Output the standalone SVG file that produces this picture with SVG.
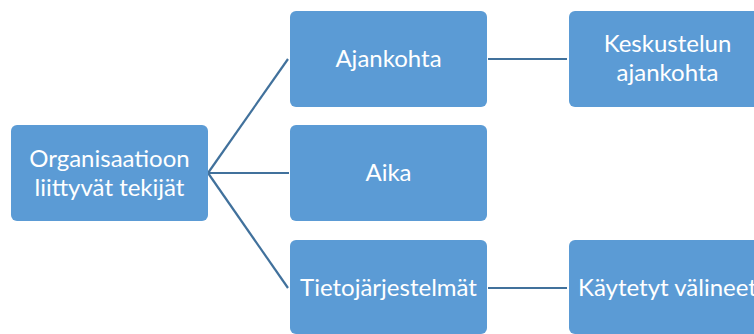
<svg xmlns="http://www.w3.org/2000/svg" width="754" height="334" viewBox="0 0 754 334">
  <style>
    .box { fill: #5B9BD5; }
    .lbl { fill: #FFFFFF; font-family: Lato, "Open Sans", "Liberation Sans", sans-serif; font-size: 24px; text-anchor: middle; }
    .link { stroke: #41719C; stroke-width: 2.2; fill: none; }
  </style>
  <rect width="754" height="334" fill="#FFFFFF"/>
  <g id="connectors">
    <path class="link" d="M208 173 L288 59"/>
    <path class="link" d="M208 173 L289 173"/>
    <path class="link" d="M208 173 L288 288"/>
    <path class="link" d="M488 59 L567 59"/>
    <path class="link" d="M488 288 L567 288"/>
  </g>
  <g id="organisaatio">
    <rect class="box" x="11" y="125" width="197" height="96" rx="6"/>
    <text class="lbl" x="109.5" y="167">Organisaatioon</text>
    <text class="lbl" x="109.5" y="196">liittyvät tekijät</text>
  </g>
  <g id="ajankohta">
    <rect class="box" x="290" y="11" width="197" height="96" rx="6"/>
    <text class="lbl" x="388.5" y="67">Ajankohta</text>
  </g>
  <g id="aika">
    <rect class="box" x="290" y="125" width="197" height="96" rx="6"/>
    <text class="lbl" x="388.5" y="181">Aika</text>
  </g>
  <g id="tietojarjestelmat">
    <rect class="box" x="290" y="240" width="197" height="94" rx="6"/>
    <text class="lbl" x="388.5" y="296">Tietojärjestelmät</text>
  </g>
  <g id="keskustelun-ajankohta">
    <rect class="box" x="569" y="11" width="197" height="96" rx="6"/>
    <text class="lbl" x="667.5" y="52">Keskustelun</text>
    <text class="lbl" x="667.5" y="81">ajankohta</text>
  </g>
  <g id="kaytetyt-valineet">
    <rect class="box" x="569" y="240" width="197" height="94" rx="6"/>
    <text class="lbl" x="667.5" y="296">Käytetyt välineet</text>
  </g>
</svg>
